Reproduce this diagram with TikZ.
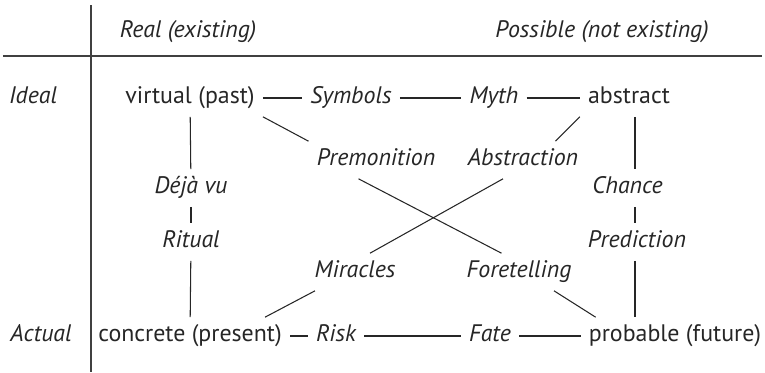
\documentclass[tikz,border=0pt]{standalone}
\usepackage{fontspec}
\setmainfont{PT Sans}
\begin{document}
\begin{tikzpicture}[
		every node/.style={text=black!85, font=\fontsize{13.6}{15}\selectfont, inner xsep=4.5pt, inner ysep=5pt, text height=1.7ex, text depth=.5ex},
		term/.style={font=\fontsize{13.6}{15}\selectfont\itshape},
		link/.style={black!85, line width=0.6pt},
		rule/.style={black!75, line width=0.9pt}]
		\useasboundingbox (0, 0) rectangle (15.3, -7.44);

		% Table rules
		\draw[rule] (1.82, -0.1) to (1.82, -7.44);
		\draw[rule] (0.06, -1.12) to (15.24, -1.12);

		% Headings
		\node[term] (real) at (3.76, -0.64){Real (existing)};
		\node[term] (possible) at (12.04, -0.64){Possible (not existing)};
		\node[term] (ideal) at (0.66, -1.96){Ideal};
		\node[term] (actual) at (0.82, -6.72){Actual};

		% Corners
		\node (virtual) at (3.8, -1.96){virtual (past)};
		\node (abstract) at (12.58, -1.96){abstract};
		\node (concrete) at (3.8, -6.72){concrete (present)};
		\node (probable) at (13.5, -6.72){probable (future)};

		% Top and bottom rows
		\node[term] (symbols) at (7.02, -1.96){Symbols};
		\node[term] (myth) at (9.88, -1.96){Myth};
		\node[term] (risk) at (6.72, -6.72){Risk};
		\node[term] (fate) at (9.8, -6.72){Fate};

		\draw[link] (virtual) edge (symbols);
		\draw[link] (symbols) edge (myth);
		\draw[link] (myth) edge (abstract);
		\draw[link] (concrete) edge (risk);
		\draw[link] (risk) edge (fate);
		\draw[link] (fate) edge (probable);

		% Columns
		\node[term] (dejavu) at (3.82, -3.76){Déjà vu};
		\node[term] (ritual) at (3.82, -4.84){Ritual};
		\node[term] (chance) at (12.55, -3.76){Chance};
		\node[term] (prediction) at (12.74, -4.84){Prediction};

		\draw[link] (virtual) edge (dejavu);
		\draw[link] (dejavu) edge (ritual);
		\draw[link] (ritual) edge (concrete);
		\draw[link] (abstract.south -| 12.7, 0) -- (12.7, -3.76 |- chance.north);
		\draw[link] (12.7, 0 |- chance.south) -- (prediction.north -| 12.7, 0);
		\draw[link] (prediction.south -| 12.7, 0) -- (probable.north -| 12.7, 0);

		% Diagonals
		\node[term] (premonition) at (7.52, -3.2){Premonition};
		\node[term] (abstraction) at (10.46, -3.2){Abstraction};
		\node[term] (miracles) at (7.1, -5.44){Miracles};
		\node[term] (foretelling) at (10.38, -5.44){Foretelling};

		\draw[link] (virtual.south east) -- (premonition.north west);
		\draw[link] ([xshift=-0.35cm]premonition.south) -- ([xshift=-0.35cm]foretelling.north);
		\draw[link] ([xshift=0.7cm]foretelling.south) -- ([xshift=0.3cm]probable.north west);
		\draw[link] (abstract.south west) -- ([xshift=0.65cm]abstraction.north);
		\draw[link] ([xshift=-0.4cm]abstraction.south) -- ([xshift=0.3cm]miracles.north);
		\draw[link] ([xshift=-0.8cm]miracles.south) -- ([xshift=-0.5cm]concrete.north east);
	\end{tikzpicture}
\end{document}
